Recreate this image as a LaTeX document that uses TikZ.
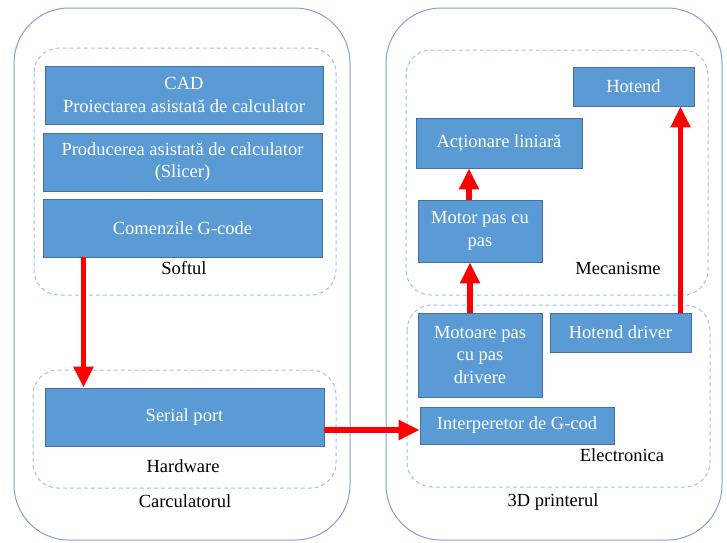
\documentclass[tikz,border=0pt]{standalone}
\usepackage{fontspec}
\setmainfont{Liberation Serif}
\usetikzlibrary{arrows.meta}
\definecolor{boxblue}{HTML}{5B9BD5}
\definecolor{boxedge}{HTML}{41719C}
\definecolor{outeredge}{HTML}{7F9FD8}
\definecolor{dashedge}{HTML}{9DC3E6}
\tikzset{
  block/.style={draw=boxedge,line width=0.8pt,fill=boxblue,text=white,align=center,inner sep=0pt},
  group/.style={draw=dashedge,line width=1pt,dash pattern=on 4pt off 3pt,rounded corners=25pt},
  unit/.style={draw=outeredge,line width=1pt,rounded corners=55pt},
  arr/.style={draw=red,line width=5.5pt,-{Triangle[width=19pt,length=21pt]}},
  caption/.style={text=black}
}
\begin{document}
\begin{tikzpicture}[x=1pt,y=-1pt,font=\fontsize{18.5}{22.5}\selectfont]
\useasboundingbox (0,0) rectangle (727,542);
% outer containers
\draw[unit] (14,8) rectangle (350,540);
\draw[unit] (386,8) rectangle (722,540);
% dashed groups
\draw[group] (34,48) rectangle (336,295);
\draw[group] (33,370) rectangle (336,488);
\draw[group] (406,50) rectangle (708,295);
\draw[group] (407,305) rectangle (710,487);
% software side
\node[block,minimum width=278pt,minimum height=58pt] (cad) at (184,95) {CAD\\Proiectarea asistată de calculator};
\node[block,minimum width=279pt,minimum height=58pt] (cam) at (182.5,162) {Producerea asistată de calculator\\(Slicer)};
\node[block,minimum width=279pt,minimum height=58pt] (cmd) at (182.5,228) {Comenzile G-code};
\node[block,minimum width=279pt,minimum height=58pt] (serial) at (184.5,417) {Serial port};
% printer side
\node[block,minimum width=121pt,minimum height=39pt] (hotend) at (633.5,86.5) {Hotend};
\node[block,minimum width=166pt,minimum height=50pt] (act) at (499,143) {Acționare liniară};
\node[block,minimum width=124pt,minimum height=62pt] (motor) at (480,231) {Motor pas cu\\pas};
\node[block,minimum width=124pt,minimum height=84pt] (drv) at (480,355) {Motoare pas\\cu pas\\drivere};
\node[block,minimum width=141pt,minimum height=39pt] (hdrv) at (620.5,332.5) {Hotend driver};
\node[block,minimum width=194pt,minimum height=37pt] (interp) at (517,425.5) {Interperetor de G-cod};
% captions
\node[caption] (softul) at (184,268) {Softul};
\node[caption] (hw) at (183,466) {Hardware};
\node[caption] (calc) at (185,501) {Carculatorul};
\node[caption] (mec) at (618,268) {Mecanisme};
\node[caption] (elec) at (622,455) {Electronica};
\node[caption] (printer) at (553,502) {3D printerul};
% arrows
\coordinate (c1) at ([xshift=-99pt]cmd.south);
\draw[arr] (c1) -- (c1 |- serial.north);
\draw[arr] ([yshift=-13pt]serial.east) -- ([yshift=-4.5pt]interp.west);
\coordinate (c2) at ([xshift=-10pt]drv.north);
\draw[arr] (c2) -- (c2 |- motor.south);
\coordinate (c3) at ([xshift=-11pt]motor.north);
\draw[arr] (c3) -- (c3 |- act.south);
\coordinate (c4) at ([xshift=60pt]hdrv.north);
\draw[arr] (c4) -- (c4 |- hotend.south);
\end{tikzpicture}
\end{document}
